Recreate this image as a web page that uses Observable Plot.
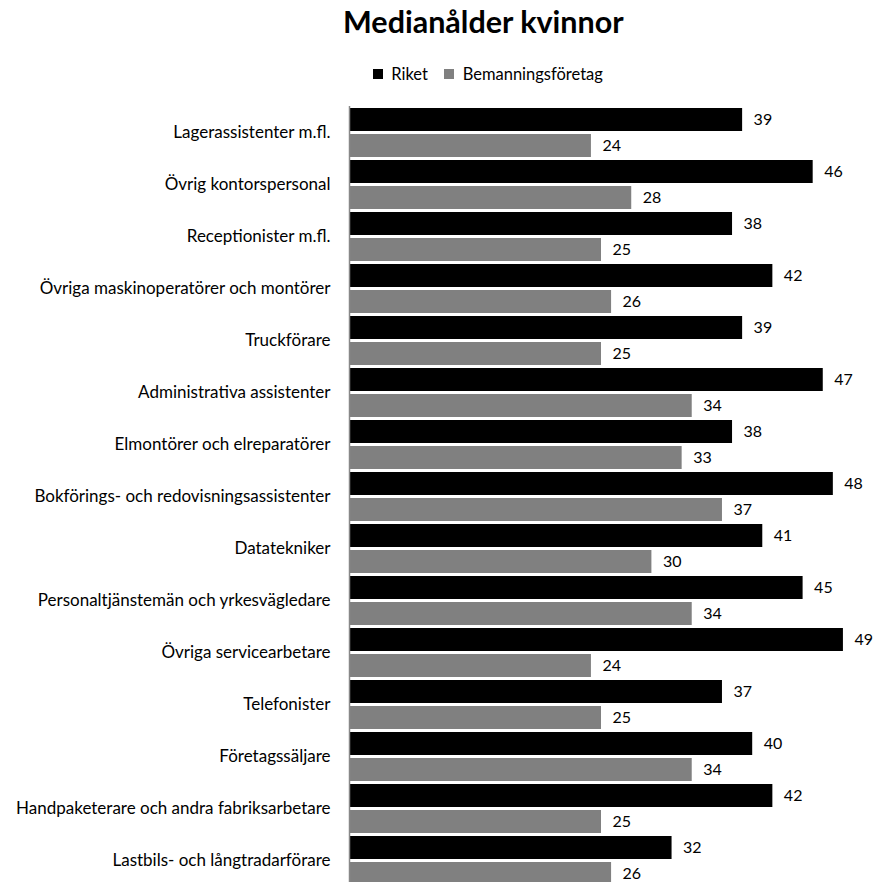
<!DOCTYPE html>
<html>
<head>
<meta charset="utf-8">
<script src="https://cdn.jsdelivr.net/npm/d3@7"></script>
<script src="https://cdn.jsdelivr.net/npm/@observablehq/plot@0.6"></script>
<style>
  html, body { margin: 0; background: #fff; font-family: Lato, "Open Sans", sans-serif; }
  body { position: relative; width: 875px; height: 882px; overflow: hidden; }
  #title { position: absolute; left: 343px; top: 0; height: 42px; line-height: 42px; font-size: 30.5px; font-weight: bold; color: #000; white-space: nowrap; }
  #legend { position: absolute; left: 373px; top: 57px; }
  #chart { position: absolute; left: 0; top: 103px; }
  #chart svg { display: block; }
</style>
</head>
<body>
<div id="title">Medianålder kvinnor</div>
<div id="legend"></div>
<div id="chart"></div>
<script>
const categories = [
  "Lagerassistenter m.fl.",
  "Övrig kontorspersonal",
  "Receptionister m.fl.",
  "Övriga maskinoperatörer och montörer",
  "Truckförare",
  "Administrativa assistenter",
  "Elmontörer och elreparatörer",
  "Bokförings- och redovisningsassistenter",
  "Datatekniker",
  "Personaltjänstemän och yrkesvägledare",
  "Övriga servicearbetare",
  "Telefonister",
  "Företagssäljare",
  "Handpaketerare och andra fabriksarbetare",
  "Lastbils- och långtradarförare"
];
const series = ["Riket", "Bemanningsföretag"];
const riket = [39, 46, 38, 42, 39, 47, 38, 48, 41, 45, 49, 37, 40, 42, 32];
const bemanning = [24, 28, 25, 26, 25, 34, 33, 37, 30, 34, 24, 25, 34, 25, 26];
const colors = ["#000000", "#808080"];

const data = [];
categories.forEach((c, i) => {
  data.push({category: c, series: series[0], value: riket[i]});
  data.push({category: c, series: series[1], value: bemanning[i]});
});

const font = "Lato, 'Open Sans', sans-serif";

const plot = Plot.plot({
  width: 875,
  height: 15 * 51.8 + 19,
  marginTop: 0,
  marginBottom: 10,
  marginLeft: 349,
  marginRight: 22,
  style: {fontFamily: font, fontSize: "17px", color: "#000", background: "#fff"},
  x: {domain: [0, 50], axis: null},
  y: {domain: series, axis: null, paddingInner: 0.13, paddingOuter: 0.065},
  fy: {domain: categories, padding: 0, label: null, tickSize: 0, tickPadding: 19, axis: "left"},
  color: {domain: series, range: colors},
  marks: [
    Plot.barX(data, {x: "value", y: "series", fy: "category", fill: "series"}),
    Plot.text(data, {x: "value", y: "series", fy: "category", text: d => String(d.value), textAnchor: "start", dx: 11, fill: "#000", fontSize: 16}),
    Plot.ruleX([0], {stroke: "#888", strokeWidth: 1.5})
  ]
});
document.getElementById("chart").appendChild(plot);

const legend = Plot.legend({
  color: {domain: series, range: colors},
  legend: "swatches",
  swatchSize: 10,
  style: {fontFamily: font, fontSize: "16.5px", color: "#000"}
});
document.getElementById("legend").appendChild(legend);
</script>
</body>
</html>
